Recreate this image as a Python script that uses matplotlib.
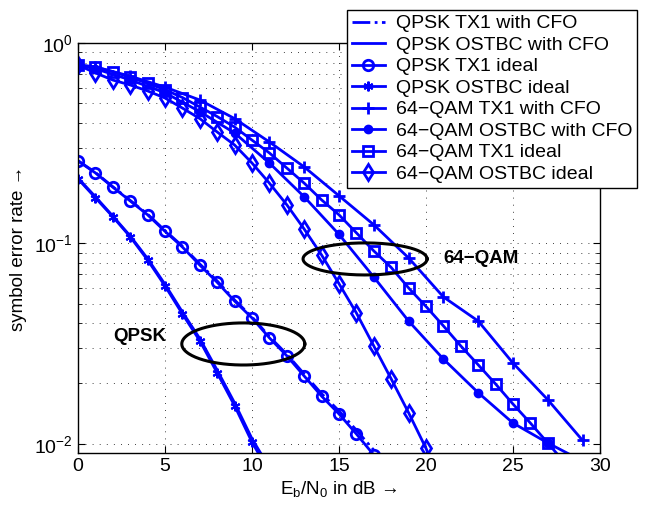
import numpy as np
import matplotlib
matplotlib.use('Agg')
import matplotlib.pyplot as plt
from matplotlib.ticker import LogLocator, NullFormatter, MultipleLocator

plt.rcParams['font.family'] = ['Liberation Sans', 'DejaVu Sans']
plt.rcParams['mathtext.default'] = 'regular'
plt.rcParams['font.size'] = 13

# QPSK curves (Eb/N0 in dB, symbol error rate)
qpsk_x_tx1 = [0, 1, 2, 3, 4, 5, 6, 7, 8, 9, 10, 11, 12, 13, 14, 15, 16, 17]
qpsk_tx1_cfo = [0.259, 0.226, 0.192, 0.164, 0.140, 0.116, 0.097, 0.079, 0.065,
                0.0522, 0.0430, 0.0343, 0.0280, 0.0223, 0.0178, 0.0146, 0.0117, 0.0093]
qpsk_tx1_ideal = [0.258, 0.225, 0.191, 0.163, 0.139, 0.115, 0.096, 0.078, 0.064,
                  0.0516, 0.0425, 0.0338, 0.0275, 0.0218, 0.0173, 0.0141, 0.0112, 0.0088]
qpsk_x_ostbc = [0, 1, 2, 3, 4, 5, 6, 7, 8, 9, 10, 11]
qpsk_ostbc_cfo = [0.212, 0.171, 0.137, 0.109, 0.084, 0.0625, 0.0455, 0.0335,
                  0.0233, 0.0160, 0.0106, 0.0076]
qpsk_ostbc_ideal = [0.210, 0.169, 0.136, 0.108, 0.0827, 0.0614, 0.0445, 0.0327,
                    0.0226, 0.0155, 0.0102, 0.0072]

# 64-QAM curves
qam_x_cfo = [0, 1, 3, 5, 7, 9, 11, 13, 15, 17, 19, 21, 23, 25, 27, 29]
qam_tx1_cfo = [0.777, 0.76, 0.684, 0.603, 0.52, 0.42, 0.321, 0.241, 0.173, 0.124,
               0.0847, 0.0541, 0.0410, 0.0253, 0.0166, 0.0104]
qam_ostbc_cfo = [0.777, 0.745, 0.655, 0.565, 0.455, 0.356, 0.252, 0.171, 0.111,
                 0.068, 0.041, 0.0265, 0.0180, 0.0127, 0.0101, 0.0082]
qam_x_tx1 = list(range(29))
qam_tx1_ideal = [0.777, 0.76, 0.72, 0.675, 0.63, 0.585, 0.535, 0.48, 0.43, 0.381,
                 0.328, 0.283, 0.238, 0.200, 0.165, 0.139, 0.113, 0.0918, 0.0759,
                 0.060, 0.0485, 0.0388, 0.0308, 0.0248, 0.0199, 0.0158, 0.0127,
                 0.0101, 0.0080]
qam_x_ostbc = list(range(22))
qam_ostbc_ideal = [0.777, 0.71, 0.654, 0.618, 0.577, 0.532, 0.474, 0.42, 0.36, 0.31,
                   0.252, 0.200, 0.156, 0.118, 0.0876, 0.063, 0.045, 0.0308, 0.0211,
                   0.0143, 0.0095, 0.006]

labels = ['QPSK TX1 with CFO', 'QPSK OSTBC with CFO', 'QPSK TX1 ideal',
          'QPSK OSTBC ideal', '64\u2212QAM TX1 with CFO', '64\u2212QAM OSTBC with CFO',
          '64\u2212QAM TX1 ideal', '64\u2212QAM OSTBC ideal']

# ellipses marking the two groups: centre (dB, SER), width dB, height decades
qpsk_ell = (9.5, 0.0315, 7.07, 0.21)
qam_ell = (16.5, 0.0837, 7.13, 0.16)

blue = (0, 0, 1)
fig = plt.figure(figsize=(6.5, 5.13), dpi=100)
ax = fig.add_axes([0.12, 0.117, 0.803, 0.799])

lw = 2
ax.plot(qpsk_x_tx1, qpsk_tx1_cfo, '-.', color=blue, lw=lw, label=labels[0])
ax.plot(qpsk_x_ostbc, qpsk_ostbc_cfo, '-', color=blue, lw=lw, label=labels[1])
ax.plot(qpsk_x_tx1, qpsk_tx1_ideal, '-', color=blue, lw=lw, marker='o', ms=7.5,
        mfc='none', mew=2, label=labels[2])
ax.plot(qpsk_x_ostbc, qpsk_ostbc_ideal, '-', color=blue, lw=lw, marker=(6, 2, 0),
        ms=7, mew=1.5, label=labels[3])
ax.plot(qam_x_cfo, qam_tx1_cfo, '-', color=blue, lw=lw, marker='+', ms=9, mew=2,
        label=labels[4])
ax.plot(qam_x_cfo, qam_ostbc_cfo, '-', color=blue, lw=lw, marker='o', ms=6,
        mfc=blue, label=labels[5])
ax.plot(qam_x_tx1, qam_tx1_ideal, '-', color=blue, lw=lw, marker='s', ms=7,
        mfc='none', mew=2, label=labels[6])
ax.plot(qam_x_ostbc, qam_ostbc_ideal, '-', color=blue, lw=lw, marker='d', ms=8.5,
        mfc='none', mew=2, label=labels[7])

t = np.linspace(0, 2 * np.pi, 200)
for cx, cy, w, h in [qpsk_ell, qam_ell]:
    ax.plot(cx + w / 2 * np.cos(t), 10 ** (np.log10(cy) + h / 2 * np.sin(t)),
            color='k', lw=2.2)

ax.text(2.0, 0.0342, 'QPSK', fontweight='bold', fontsize=13.5, va='center')
ax.text(21.0, 0.0837, '64\u2212QAM', fontweight='bold', fontsize=13.5, va='center')

ax.set_yscale('log')
ax.set_xlim(0, 30)
ax.set_ylim(0.009, 1)
ax.xaxis.set_major_locator(MultipleLocator(5))
ax.yaxis.set_major_locator(LogLocator(base=10))
ax.yaxis.set_minor_locator(LogLocator(base=10, subs=np.arange(2, 10)))
ax.yaxis.set_minor_formatter(NullFormatter())
ax.tick_params(which='both', direction='in', top=True, right=True)
ax.tick_params(which='major', length=5, labelsize=14)
ax.tick_params(which='minor', length=3)
ax.grid(True, which='major', color='k', lw=0.6, linestyle=(0, (1, 7.5)))
ax.grid(True, which='minor', axis='y', color='k', lw=0.6, linestyle=(0, (1, 7.5)))
for s in ax.spines.values():
    s.set_linewidth(1)

ax.set_xlabel('$E_b/N_0$ in dB \u2192', fontsize=13.5, labelpad=3)
ax.set_ylabel('symbol error rate \u2192', fontsize=13.5, labelpad=5)

leg = fig.legend(loc='upper left', bbox_to_anchor=(347 / 650, 1 - 10 / 513),
                 borderaxespad=0, fontsize=14, labelspacing=0.2, handlelength=1.7,
                 handletextpad=0.55, borderpad=0.25, numpoints=1, fancybox=False,
                 framealpha=1, edgecolor='k')
leg.get_frame().set_linewidth(1)

fig.savefig('out.png', dpi=100)
